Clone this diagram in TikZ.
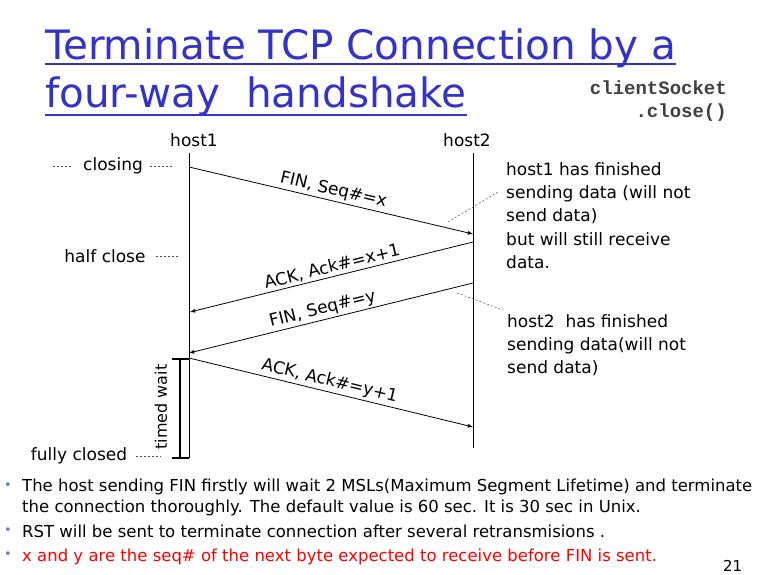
\documentclass[tikz,border=0pt]{standalone}
\usepackage{fontspec}
\setmainfont{DejaVu Sans}
\setmonofont{Liberation Mono}
\definecolor{titleblue}{RGB}{51,51,204}
\definecolor{codegray}{RGB}{64,64,64}
\definecolor{bulletblue}{RGB}{110,125,190}

\begin{document}
\begin{tikzpicture}[x=1pt,y=-1pt]

\tikzset{
titletext/.style={anchor=base west,inner sep=0pt,text=titleblue,font=\fontsize{40.5}{40.5}\selectfont},
titlerule/.style={draw=titleblue,line width=1.4pt},
codetext/.style={anchor=base east,inner sep=0pt,text=codegray,font=\ttfamily\bfseries\fontsize{19}{19}\selectfont},
txt/.style={inner sep=0pt,font=\fontsize{17}{22}\selectfont},
note/.style={anchor=north west,inner sep=0pt,align=left,font=\fontsize{17}{23.3}\selectfont},
msg/.style={->,>=latex,line width=0.8pt},
msglabel/.style={sloped,above,inner sep=2pt,font=\fontsize{17}{22}\selectfont},
lifeline/.style={line width=0.8pt},
hint/.style={dash pattern=on 2pt off 2pt,line width=0.5pt,draw=black!70},
bracket/.style={line width=2.2pt},
bodytext/.style={anchor=base west,inner sep=0pt,font=\fontsize{16.5}{20}\selectfont},
bulletdot/.style={inner sep=0pt,text=bulletblue,font=\fontsize{13}{13}\selectfont}
}

\useasboundingbox[fill=white] (0,0) rectangle (774,575);

\node[titletext] (title-line1) at (45,60) {Terminate TCP Connection by a};
\node[titletext] (title-line2) at (45,108) {four-way\ \ handshake};
\draw[titlerule] ([yshift=-4pt]title-line1.base west) -- ([yshift=-4pt]title-line1.base east);
\draw[titlerule] ([yshift=-7pt]title-line2.base west) -- ([yshift=-7pt]title-line2.base east);

\node[codetext] (socket-name) at (727,95) {clientSocket};
\node[codetext] (socket-close) at (727,118) {.close()};

\node[txt] (host1-label) at (194,140) {host1};
\node[txt] (host2-label) at (467,140) {host2};

\coordinate (host1-top) at (189,153);
\coordinate (host1-bottom) at (189,458);
\coordinate (host2-top) at (473,153);
\coordinate (host2-bottom) at (473,448);
\draw[lifeline] (host1-top) -- (host1-bottom);
\draw[lifeline] (host2-top) -- (host2-bottom);

\coordinate (fin1-start) at (189,167);
\coordinate (fin1-end) at (473,234);
\coordinate (ack1-start) at (473,242);
\coordinate (ack1-end) at (190,312);
\coordinate (fin2-start) at (473,283);
\coordinate (fin2-end) at (189,353);
\coordinate (ack2-start) at (189,358);
\coordinate (ack2-end) at (473,427);

\draw[msg] (fin1-start) -- node[msglabel] (fin1-label) {FIN, Seq\#=x} (fin1-end);
\draw[msg,<-] (ack1-end) -- node[msglabel,xshift=3pt] (ack1-label) {ACK, Ack\#=x+1} (ack1-start);
\draw[msg,<-] (fin2-end) -- node[msglabel,xshift=-6pt] (fin2-label) {FIN, Seq\#=y} (fin2-start);
\draw[msg] (ack2-start) -- node[msglabel,xshift=-4pt] (ack2-label) {ACK, Ack\#=y+1} (ack2-end);

\draw[bracket] (172,359) -- (189,359) (180,359) -- (180,458) (172,458) -- (189,458);
\node[txt,rotate=90,font=\fontsize{16}{20}\selectfont] (wait-label) at (161,407) {timed wait};

\node[txt] (closing) at (113,166) {closing};
\node[txt] (half-close) at (105,256) {half close};
\node[txt] (fully-closed) at (79,456) {fully closed};
\draw[hint] ([xshift=-12pt]closing.west) -- ([xshift=-32pt]closing.west);
\draw[hint] ([xshift=7pt]closing.east) -- ([xshift=29pt]closing.east);
\draw[hint] ([xshift=10pt]half-close.east) -- ([xshift=34pt]half-close.east);
\draw[hint] ([xshift=9pt]fully-closed.east) -- ([xshift=34pt]fully-closed.east);

\node[note] (note-host1) at (506,162) {host1 has finished\\sending data (will not\\send data)\\but will still receive\\data.};
\node[note] (note-host2) at (507,314) {host2\ \ has finished\\sending data(will not\\send data)};
\coordinate (note-host1-tip) at (448,222);
\coordinate (note-host1-end) at (498,192);
\coordinate (note-host2-tip) at (457,293);
\coordinate (note-host2-end) at (503,310);
\draw[hint] (note-host1-tip) -- (note-host1-end);
\draw[hint] (note-host2-tip) -- (note-host2-end);

\node[bulletdot] (bullet1) at (8,486) {\textbullet};
\node[bulletdot] (bullet2) at (8,531) {\textbullet};
\node[bulletdot] (bullet3) at (8,555) {\textbullet};
\node[bodytext] (body-line1) at (22,491) {The host sending FIN firstly will wait 2 MSLs(Maximum Segment Lifetime) and terminate};
\node[bodytext] (body-line2) at (22,512) {the connection thoroughly. The default value is 60 sec. It is 30 sec in Unix.};
\node[bodytext] (body-line3) at (22,537) {RST will be sent to terminate connection after several retransmisions .};
\node[bodytext,text=red] (body-line4) at (22,561) {x and y are the seq\# of the next byte expected to receive before FIN is sent.};
\node[bodytext,font=\fontsize{15}{18}\selectfont] (page-number) at (723,571) {21};

\end{tikzpicture}
\end{document}
